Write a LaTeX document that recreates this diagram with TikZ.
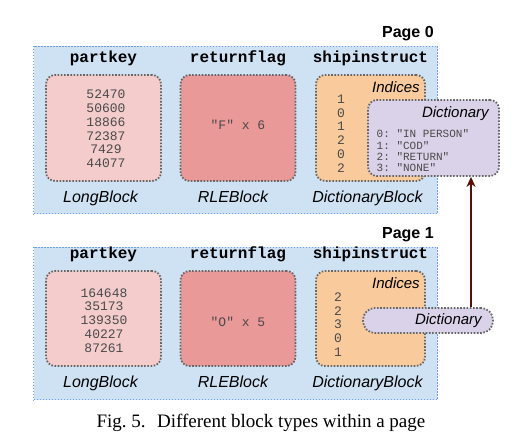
\documentclass[tikz,border=0pt]{standalone}
\usepackage{fontspec}
\setmainfont{Liberation Serif}
\setsansfont{Liberation Sans}
\setmonofont{Liberation Mono}
\usetikzlibrary{positioning,fit,backgrounds,arrows.meta}
\definecolor{pagefill}{HTML}{CFE2F3}
\definecolor{pageline}{HTML}{6D9EEB}
\definecolor{longfill}{HTML}{F4CCCC}
\definecolor{rlefill}{HTML}{EA9999}
\definecolor{idxfill}{HTML}{F9CB9C}
\definecolor{dictfill}{HTML}{D9D2E9}
\definecolor{blockline}{HTML}{666666}
\definecolor{valgray}{HTML}{4A4A4A}
\definecolor{arrowred}{HTML}{5B0F00}
\tikzset{block/.style={draw=blockline,line width=1.8pt,dash pattern=on 1.6pt off 1.6pt,rounded corners=9pt,minimum width=115pt,minimum height=106pt,inner sep=0pt},
         page/.style={draw=pageline,line width=1pt,dash pattern=on 1.5pt off 1.5pt,fill=pagefill},
         pagelabel/.style={font=\fontsize{16}{18}\selectfont\sffamily\bfseries,inner sep=0pt,anchor=south east,xshift=-4pt,yshift=4.5pt},
         colname/.style={font=\fontsize{16}{18}\selectfont\ttfamily\bfseries,inner sep=0pt},
         kind/.style={font=\fontsize{16}{18}\selectfont\sffamily\itshape,inner sep=0pt},
         part/.style={font=\fontsize{15}{17}\selectfont\sffamily\itshape,inner sep=0pt},
         vals/.style={font=\fontsize{13}{13.8}\selectfont\ttfamily,text=valgray,align=center,inner sep=0pt},
         entries/.style={font=\fontsize{11}{11.3}\selectfont\ttfamily,text=valgray,align=left,inner sep=0pt},
         line/.style={-{Stealth[length=10pt,width=9pt]},line width=2pt,draw=arrowred}
}
\begin{document}
\begin{tikzpicture}[x=1pt,y=-1pt]
  \useasboundingbox (0,0) rectangle (521,444);
  % page 0
  \node[block, fill=longfill] (lb0) at (103.5,128) {};
  \node[block, fill=rlefill] (rb0) at (238,128) {};
  \node[block, fill=idxfill, minimum width=109pt] (db0) at (370.5,128) {};
  \node[vals] (lv0) at (106,129) {52470\\50600\\18866\\72387\\7429\\44077};
  \node[vals] (rv0) at (238,125) {"F" x 6};
  \node[vals] (iv0) at (341,133.5) {1\\0\\1\\2\\0\\2};
  \node[part, anchor=north east] (ix0) at ([xshift=-6pt,yshift=-7pt]db0.north east) {Indices};
  \node[block, fill=dictfill, minimum width=131pt, minimum height=76pt] (dict0) at (433.5,138) {};
  \node[part, anchor=north east] (dl0) at ([xshift=-11pt,yshift=-7pt]dict0.north east) {Dictionary};
  \node[entries, anchor=west] (de0) at (376.5,151) {0: "IN PERSON"\\1: "COD"\\2: "RETURN"\\3: "NONE"};
  \node[colname, above=8pt of lb0] (ha0) {partkey};
  \node[colname, above=8pt of rb0] (hb0) {returnflag};
  \node[colname, above=8pt of db0] (hc0) {shipinstruct};
  \node[kind, below=9pt of lb0, xshift=-3pt] (ka0) {LongBlock};
  \node[kind, below=9pt of rb0, xshift=-5pt] (kb0) {RLEBlock};
  \node[kind, below=9pt of db0, xshift=-3pt] (kc0) {DictionaryBlock};

  % page 1
  \node[block, fill=longfill, minimum height=95pt] (lb1) at (103.5,318.5) {};
  \node[block, fill=rlefill, minimum height=95pt] (rb1) at (238,318.5) {};
  \node[block, fill=idxfill, minimum width=109pt, minimum height=95pt] (db1) at (370.5,318.5) {};
  \node[vals] (lv1) at (104,320.5) {164648\\35173\\139350\\40227\\87261};
  \node[vals] (rv1) at (238,322) {"O" x 5};
  \node[vals] (iv1) at (338,324.5) {2\\2\\3\\0\\1};
  \node[part, anchor=north east] (ix1) at ([xshift=-6pt,yshift=-7pt]db1.north east) {Indices};
  \node[block, fill=dictfill, minimum width=130pt, minimum height=25pt, rounded corners=12pt] (dict1) at (428,320.5) {};
  \node[part, anchor=east] (dl1) at ([xshift=-12pt]dict1.east) {Dictionary};
  \node[colname, above=8pt of lb1] (ha1) {partkey};
  \node[colname, above=8pt of rb1] (hb1) {returnflag};
  \node[colname, above=8pt of db1] (hc1) {shipinstruct};
  \node[kind, below=9pt of lb1, xshift=-3pt] (ka1) {LongBlock};
  \node[kind, below=9pt of rb1, xshift=-5pt] (kb1) {RLEBlock};
  \node[kind, below=9pt of db1, xshift=-3pt] (kc1) {DictionaryBlock};

  \begin{scope}[on background layer]
  \node[page, fit=(lb0)(db0), inner xsep=11.5pt, inner ysep=30pt, yshift=-2pt,
    label={[pagelabel]north east:Page 0}] (p0) {};
  \node[page, fit=(lb1)(db1), inner xsep=11.5pt, inner ysep=28pt, yshift=-5pt,
    label={[pagelabel]north east:Page 1}] (p1) {};
  \end{scope}

  \draw[line] ([xshift=43pt]dict1.north) -- ([xshift=37.5pt]dict0.south);

  \node[font=\fontsize{19}{21}\selectfont] (cap) at (261,423) {Fig.~5.\hspace{0.6em}Different block types within a page};
\end{tikzpicture}
\end{document}
